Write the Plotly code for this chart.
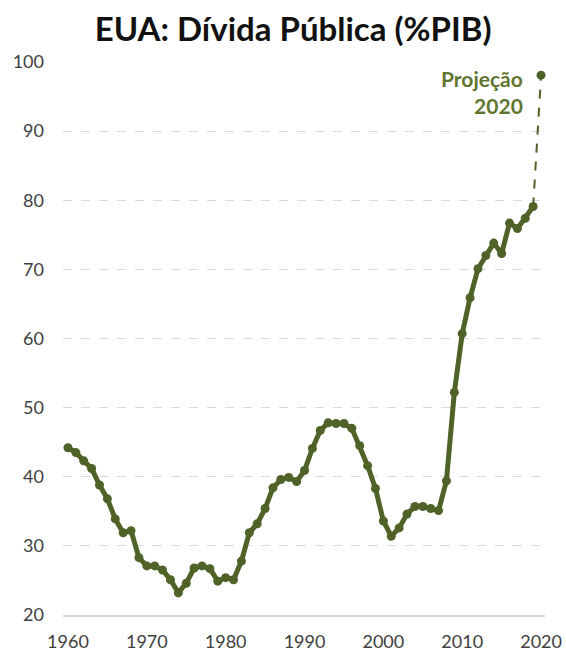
import plotly.graph_objects as go

# US public debt, % of GDP
years = list(range(1960, 2020))
debt = [44.2, 43.5, 42.3, 41.2, 38.8, 36.8, 33.9, 31.9, 32.2, 28.3,
        27.1, 27.1, 26.5, 25.1, 23.2, 24.6, 26.8, 27.1, 26.7, 24.9,
        25.4, 25.1, 27.8, 31.9, 33.2, 35.4, 38.4, 39.6, 39.9, 39.3,
        40.9, 44.1, 46.7, 47.8, 47.7, 47.7, 47.0, 44.5, 41.6, 38.3,
        33.6, 31.4, 32.6, 34.6, 35.7, 35.7, 35.4, 35.1, 39.4, 52.2,
        60.7, 65.9, 70.1, 72.0, 73.8, 72.3, 76.7, 75.9, 77.4, 79.1]

# 2020 projection
proj_years = [2019, 2020]
proj_debt = [79.1, 98.1]
proj_label = "Projeção<br>2020"

x_ticks = [1960, 1970, 1980, 1990, 2000, 2010, 2020]
y_ticks = [20, 30, 40, 50, 60, 70, 80, 90, 100]

olive = "#4f6228"
label_green = "#5f7530"
font_family = "Lato, Open Sans, sans-serif"

fig = go.Figure()
# dashed link from the last observation to the projection
fig.add_trace(go.Scatter(
    x=proj_years, y=proj_debt, mode="lines",
    line=dict(color=olive, width=2, dash="dash"),
    cliponaxis=False, showlegend=False, hoverinfo="skip",
))
fig.add_trace(go.Scatter(
    x=proj_years[1:], y=proj_debt[1:], mode="markers",
    marker=dict(size=9, color=olive),
    cliponaxis=False, showlegend=False,
))
fig.add_trace(go.Scatter(
    x=years, y=debt, mode="lines+markers",
    line=dict(color=olive, width=5),
    marker=dict(size=9, color=olive),
    cliponaxis=False, showlegend=False,
))

fig.add_annotation(
    x=proj_years[1], y=proj_debt[1], text="<b>" + proj_label + "</b>",
    showarrow=False, xanchor="right", yanchor="top",
    xshift=-16, yshift=11, align="right",
    font=dict(family=font_family, size=21, color=label_green),
)

fig.update_layout(
    width=566, height=652,
    margin=dict(l=63, r=21, t=62, b=37, autoexpand=False),
    paper_bgcolor="white", plot_bgcolor="white",
    title=dict(
        text="<b>EUA: Dívida Pública (%PIB)</b>",
        xref="container", x=0.518, xanchor="center",
        yref="container", y=0.955, yanchor="middle",
        font=dict(family=font_family, size=33, color="#111111"),
    ),
    font=dict(family=font_family, size=18, color="#404040"),
    xaxis=dict(
        range=[1959.37, 2020.5], tickvals=x_ticks,
        showgrid=False, zeroline=False, automargin=False,
        showline=True, linecolor="#d9d9d9", linewidth=1.5,
        ticks="", ticklabelstandoff=10,
    ),
    yaxis=dict(
        range=[20, 100], tickvals=y_ticks, automargin=False,
        showgrid=True, gridcolor="#d9d9d9", griddash="dash", gridwidth=1,
        zeroline=False, showline=False, ticks="", ticklabelstandoff=18,
    ),
)

fig.write_html("out.html")
